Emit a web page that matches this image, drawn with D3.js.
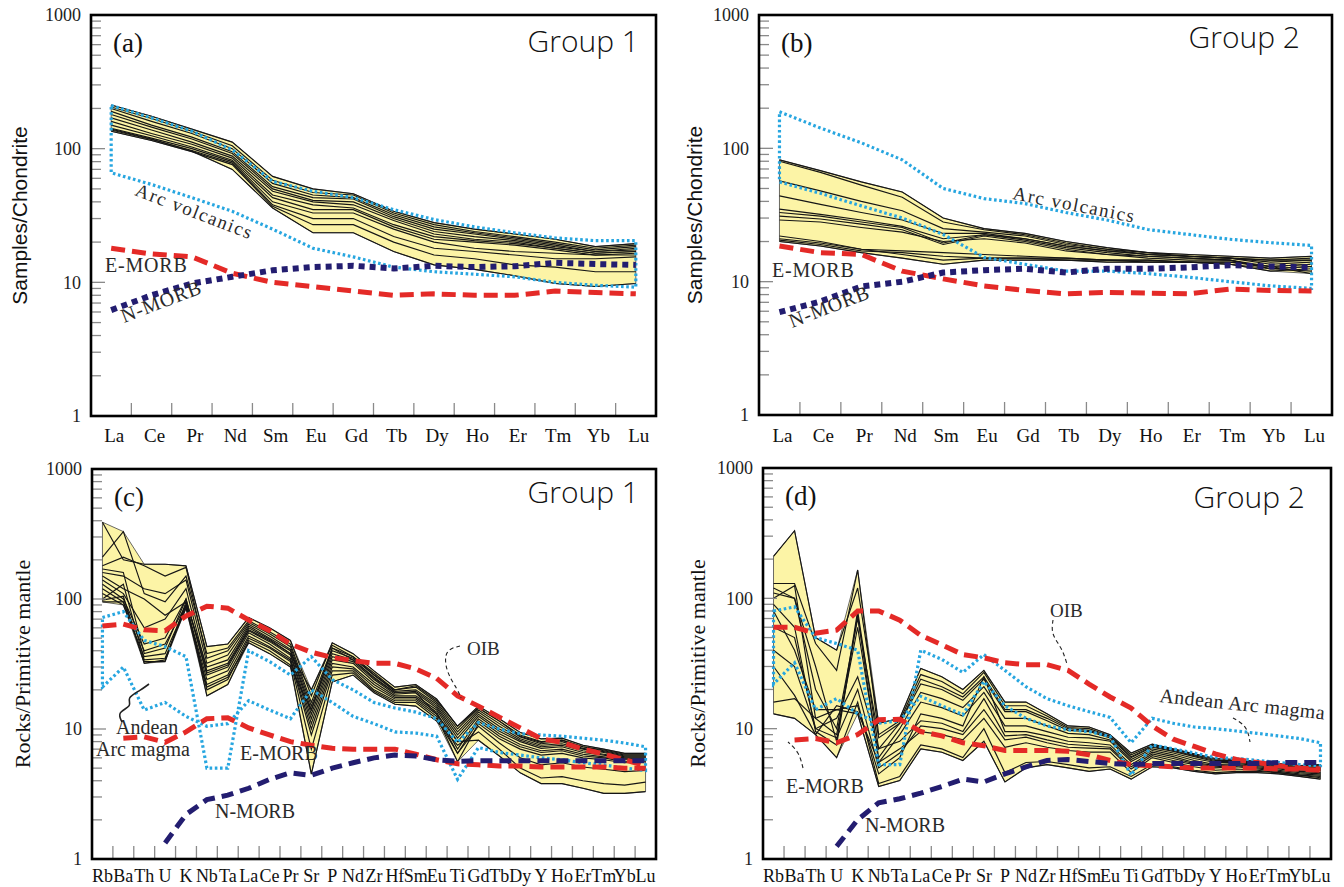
<!DOCTYPE html>
<html><head><meta charset="utf-8">
<script src="https://cdn.jsdelivr.net/npm/d3@7"></script>
<style>body{margin:0;background:#fff}svg{display:block}</style>
</head><body>
<svg id="chart" width="1344" height="887"></svg>
<script>
// ---------- categories & ticks ----------
const REE = ["La","Ce","Pr","Nd","Sm","Eu","Gd","Tb","Dy","Ho","Er","Tm","Yb","Lu"];
const SPIDER = ["Rb","Ba","Th","U","K","Nb","Ta","La","Ce","Pr","Sr","P","Nd","Zr","Hf","Sm","Eu","Ti","Gd","Tb","Dy","Y","Ho","Er","Tm","Yb","Lu"];
const yTickLabels = [1, 10, 100, 1000];

// ---------- panel (a) Group 1, chondrite ----------
const aSamples = [
  [212,175,140,112,62,50,46,34,28,25,23,21,18.5,19.5],
  [205,168,135,105,58,47,45,33,27,24,22,20,18,19],
  [200,160,130,100,55,45,43,32,26,23.5,21.5,19.5,17.5,18.5],
  [190,150,122,95,52,43,42,31,25,23,21,19,17,18],
  [180,145,118,92,50,41,40,30,24,22,20.5,18.5,17,17.5],
  [170,138,112,88,48,40,38,29,23,21,20,18,16.5,17],
  [160,130,108,85,45,38,36,27,22,20.5,19.5,18,16.5,17],
  [150,125,103,82,43,35,35,26,21,20,19,17.5,16,16.5],
  [142,120,100,80,40,33,33,25,20,18,17,16.5,16,16],
  [138,117,97,78,38,30,30,22,18,17,16,15,15,15.5],
  [135,115,95,76,37,27,27,20,16,15,13.5,13,12,12],
  [140,118,96,70,36,23.5,23.5,17,13.5,12.5,11.2,9.8,9.3,9.8]
];
const aArcUpper = [210,170,135,98,57,48,43,35,29.5,26,23.5,21.5,20.5,20.5];
const aArcLower = [66,54,43,34,25,18,15.5,13,12,11.5,11,10,9.5,9.2];
const aEMORB = [18,16.3,15.5,11.7,10,9.3,8.6,8,8.2,8,8,8.6,8.4,8.2];
const aNMORB = [6.2,8,9.8,11,12.3,13,13.3,12.7,13.3,13,13.2,14,13.7,13.5];

// ---------- panel (b) Group 2, chondrite ----------
const bSamples = [
  [82,68,56,47,30,25,23,20,18,16.5,16,15.5,15,15.5],
  [80,66,53,43,28,24.5,22.5,19.5,17.5,16.5,15.5,15,14.5,15],
  [57,48,40,34,25,23.5,22,19,17.5,16,15.5,15,14.5,14.5],
  [44,38,33,29,23,23,21,18.5,17,16,15.5,15,14,14.5],
  [35,32,29,26,21,22.5,21,18.5,17,16,15.5,15,13.5,14],
  [33,31,28,25.5,19.5,22.5,20.5,18,16.5,15.5,15,14.5,13,13.5],
  [31,29.5,27,24.5,19,22,20,17.5,16,15.5,15,14.5,12.5,13],
  [29,28,25.5,23.5,20,21,19.5,17,16,15,14.5,14.5,12.5,13],
  [21,19.5,17.5,17,16.5,16,15.5,15,14.5,14.5,14,14,13,13.5],
  [20.5,19,17,16.5,15.5,15,15,14.5,14.5,14,14,13.5,12,12.5],
  [20,18.5,16.5,15,13.5,14.5,14.5,14.5,14,14,14,13.5,12.5,12],
  [22,20,17.5,16,14.5,15,15,15,14.5,14.5,14,14,13,11.5]
];
const bArcUpper = [188,142,110,82,50,42,38.5,33,29,24.6,22.6,20.8,19.6,18.7];
const bArcLower = [56,46,37,30,22.6,15.2,13.5,12,12,11.5,10.8,10,9.3,8.9];
const bEMORB = [18.5,16.5,16,12,10.5,9.3,8.6,8.1,8.3,8.2,8.1,8.8,8.6,8.5];
const bNMORB = [5.9,7.1,9.2,10,11.7,12.2,12.5,11.7,12.5,12.5,12.8,13.3,13,12.8];

// ---------- panel (c) Group 1, primitive mantle ----------
const cSamples = [
  [390,200,185,185,180,43,45,72,60,48,18,46,38,28,21,22,17,10.5,15,12,9.4,8.4,8.5,7.5,7,6.5,6.5],
  [210,330,110,95,150,38,42,68,56,45,16,42,36,27,20,21,16,10,14.5,11.5,9,8,8.2,7.3,6.8,6.3,6.3],
  [180,210,180,150,175,35,40,66,54,43,15,40,35,26,19.5,20,15.5,9.5,14,11,8.7,7.7,8,7.1,6.7,6.2,6.2],
  [160,150,120,110,140,32,37,64,52,41,14,38,34,25,19,19.5,15,9,13.5,10.5,8.4,7.5,7.7,7,6.6,6.1,6.1],
  [150,120,100,75,95,30,34,62,50,40,13,36,33,24,18.5,19,14.5,8.5,13,10,8.2,7.3,7.5,6.8,6.4,6,6],
  [140,110,60,70,120,28,32,60,49,38,12,34,32,23,18,18,14,8,12.5,9.6,8,7.1,7.3,6.6,6.3,5.9,5.9],
  [130,100,45,50,100,26,30,57,47,37,11,32,30,22,17.5,17.5,13.5,7,12,9.2,7.6,6.8,7,6.4,6.1,5.8,5.8],
  [120,95,40,45,90,24,28,55,45,35,10,30,29,21,17,17,13,6.5,11.5,8.8,7.3,6.6,6.8,6.2,6,5.6,5.7],
  [110,90,36,38,88,22,26,52,43,34,9,28,28,20,16.5,16.5,12.5,5.6,11,8.4,7,6.3,6.5,6,5.8,5.5,5.6],
  [100,130,34,35,85,20,24,50,42,33,7,26,27,19.5,16,16,12,6.5,10.5,7.8,6,5.3,5.5,5.1,4.9,4.7,4.8],
  [95,95,33,33,95,18,22,48,40,31,4.5,23,26,19,15.5,15,11.5,7.5,9.5,7,5,4.2,4.3,4,3.8,3.7,3.9],
  [98,105,32,34,90,21,25,46,38,30,14,42,34,24.5,19,19,13,8,8.2,6.2,4.6,3.8,3.8,3.5,3.2,3.2,3.3],
  [170,160,38,42,100,27,31,58,48,38,20,44,36,26,20,21.5,16.5,10.5,14.5,11.5,8.8,7.9,8.2,7.3,6.9,6.4,6.4]
];
const cArcUpper = [72,80,48,43,36,5,5,40,33,26,36,24,20,16,14.5,13.5,12,7.9,11.2,10,9.2,9,8.8,8.5,8.2,7.8,7.3];
const cArcLower = [21,30,14,16,12.5,10.5,11,16.5,14,12,20,16,12.5,11,9.5,9.3,8.8,4.1,7.2,6.6,6.3,6,5.8,5.5,5.3,5,4.8];
const cOIB = [62,64,58,57,74,88,85,69,57,45,39,35.5,33.5,32,32,29,24.5,18,15,12.3,10.2,8.4,7.9,7,6.4,5.8,5.2];
const cEMORB = [null,8.5,8.7,7.9,9.5,12,12.2,10.2,9,8,7.5,7.1,7,7,7,6.4,5.8,5.4,5.3,5.2,5.2,5.1,5.1,5.1,5.1,5,5];
const cNMORB = [null,null,null,1.33,2.2,2.86,3.1,3.5,4.1,4.6,4.4,5,5.5,6,6.3,6.2,5.8,5.65,5.7,5.7,5.7,5.7,5.7,5.7,5.7,5.7,5.7];

// ---------- panel (d) Group 2, primitive mantle ----------
const dSamples = [
  [210,330,50,40,120,11,12,29,25,20,28,16,16,13,10.5,10.3,9,6.5,7.6,7,6.4,5.9,5.8,5.6,5.4,5.2,5.3],
  [130,130,45,28,165,9,11.5,26,23,18.5,27,15,15,12.5,10.2,10,8.8,6.3,7.4,6.9,6.3,5.8,5.7,5.5,5.3,5.1,5.2],
  [120,100,30,8,80,7,11,22,20,16.5,24,13.5,13.5,11.5,9.7,9.5,8.5,6,7.2,6.7,6.1,5.6,5.6,5.4,5.2,5,5],
  [100,125,12,9,60,6,10,19,17,14.5,21,12,12,10.5,9.2,9,8.2,5.8,7,6.5,5.9,5.5,5.5,5.3,5.1,4.9,4.9],
  [90,60,9.5,7.5,75,5.5,9,16,14.5,12.5,19,10.5,10.5,9.5,8.6,8.5,8,5.6,6.8,6.3,5.7,5.3,5.4,5.2,5,4.8,4.8],
  [80,40,14,14,15,4.5,6,13,12,10.5,25,9.5,9.5,8.8,8,7.8,7.5,5.3,6.6,6.1,5.5,5.2,5.3,5.1,4.9,4.7,4.6],
  [60,50,10,12,25,7,8,11.5,11,9.5,17,8.8,9,8.2,7.6,7.4,7.2,5.1,6.4,5.9,5.4,5.1,5.2,5,4.8,4.6,4.5],
  [40,30,10,8.5,20,5,6.5,10.5,10,9,14,8.2,8.6,7.8,7.2,7.1,7,4.9,6.2,5.7,5.3,5,5.1,4.9,4.7,4.5,4.4],
  [30,18,9,15,13.5,5.5,7,9.5,9,8.2,12,7.2,7.8,7.2,6.8,6.6,6.6,4.6,6,5.5,5.1,4.8,4.9,4.8,4.6,4.4,4.3],
  [16,17,12,14,13,3.6,4,7,6.6,5.7,8,3.9,5,5.3,5,4.7,4.9,4.1,5.1,5,4.7,4.5,4.6,4.6,4.5,4.3,4.1],
  [13,12,9,6,16,3.8,4.3,7.5,7,6,10,4.6,5.5,5.6,5.3,5,5.1,4.3,5.3,5.1,4.8,4.6,4.7,4.7,4.6,4.4,4.2],
  [110,100,20,10,70,8.5,11,24,21,17.5,25,14,14,12,10,9.7,8.7,6.1,7.3,6.8,6.2,5.7,5.7,5.5,5.3,5,5.1]
];
const dArcUpper = [80,86,50,45,40,5.3,5.3,40,34,27,37,28,21,17,15,13.5,12.2,7.8,12,11,10.3,10,9.6,9.2,8.8,8.4,7.8];
const dArcLower = [22,32,14,17,13,11,11.5,17.7,15,12.8,23,15,12,10.5,9.8,9.5,8.7,4.4,7.5,7,6.5,6,5.9,5.7,5.5,5.3,5.2];
const dOIB = [60,60,54,57,80,80,68,52,44,37,35,32,31,31,28,22,17.5,14.4,10.5,8.3,7.3,6.4,5.8,5.5,5.2,5,4.9];
const dEMORB = [null,8.2,8.4,7.8,9,11.7,11.8,9.5,8.8,7.8,7.4,6.8,6.8,6.8,6.7,6.3,5.7,5.3,5.2,5.1,5,5,5,5,4.9,4.9,4.8];
const dNMORB = [null,null,null,1.25,2,2.7,2.9,3.2,3.6,4.1,3.9,4.5,5.1,5.7,5.8,5.6,5.4,5.3,5.4,5.4,5.4,5.4,5.4,5.4,5.5,5.5,5.5];

// ---------- drawing ----------
const svg = d3.select("#chart");
const SERIF = "'Liberation Serif','Times New Roman',serif";
const SANS = "'Liberation Sans',Arial,sans-serif";
const BLUE = "#27a6e0", RED = "#e42a27", NAVY = "#231d70";

function drawPanel(p) {
  const g = svg.append("g");
  const x = d3.scalePoint().domain(p.cats).range([p.x0, p.x1]).padding(0.5);
  const y = d3.scaleLog().domain([1, 1000]).range([p.y1, p.y0]);
  const step = x.step();
  const pts = arr => p.cats.map((c, i) => [c, arr[i]]);
  const lineGen = d3.line().defined(d => d[1] != null).x(d => x(d[0])).y(d => y(d[1]));

  // envelope
  const env = p.cats.map((c, i) => ({c, lo: d3.min(p.samples, s => s[i]), hi: d3.max(p.samples, s => s[i])}));
  g.append("path").datum(env)
    .attr("d", d3.area().x(d => x(d.c)).y0(d => y(d.lo)).y1(d => y(d.hi)))
    .attr("fill", "#fcf4a6").attr("stroke", "#444").attr("stroke-width", 0.8);

  // sample lines
  p.samples.forEach(s => g.append("path").attr("d", lineGen(pts(s)))
    .attr("fill", "none").attr("stroke", "#151515").attr("stroke-width", 1.15));

  // arc field polygon (blue dotted)
  const poly = pts(p.arcU).concat(pts(p.arcL).reverse());
  g.append("path").attr("d", lineGen(poly) + "Z")
    .attr("fill", "none").attr("stroke", BLUE).attr("stroke-width", 3.2)
    .attr("stroke-dasharray", "2.6,2.6");

  // OIB
  if (p.oib) g.append("path").attr("d", lineGen(pts(p.oib)))
    .attr("fill", "none").attr("stroke", RED).attr("stroke-width", 5).attr("stroke-dasharray", "14,7");
  // E-MORB
  g.append("path").attr("d", lineGen(pts(p.emorb)))
    .attr("fill", "none").attr("stroke", RED).attr("stroke-width", 5).attr("stroke-dasharray", "14,7");
  // N-MORB
  g.append("path").attr("d", lineGen(pts(p.nmorb)))
    .attr("fill", "none").attr("stroke", NAVY)
    .attr("stroke-width", p.nDotted ? 6 : 5)
    .attr("stroke-dasharray", p.nDotted ? "6,5" : "12,7");

  // y ticks (inside, gray)
  const minor = [];
  for (let k = 0; k < 3; k++) for (let m = 2; m <= 9; m++) minor.push(m * Math.pow(10, k));
  g.selectAll(null).data(minor).enter().append("line")
    .attr("x1", p.x0).attr("x2", p.x0 + 10)
    .attr("y1", d => y(d)).attr("y2", d => y(d))
    .attr("stroke", "#8a8a8a").attr("stroke-width", 1.3);
  g.selectAll(null).data([10, 100]).enter().append("line")
    .attr("x1", p.x0).attr("x2", p.x0 + 14)
    .attr("y1", d => y(d)).attr("y2", d => y(d))
    .attr("stroke", "#8a8a8a").attr("stroke-width", 1.3);
  // x ticks at band boundaries
  g.selectAll(null).data(p.cats.slice(1)).enter().append("line")
    .attr("x1", d => x(d) - step / 2).attr("x2", d => x(d) - step / 2)
    .attr("y1", p.y1).attr("y2", p.y1 - 13)
    .attr("stroke", "#8a8a8a").attr("stroke-width", 1.3);

  // frame
  g.append("rect").attr("x", p.x0).attr("y", p.y0)
    .attr("width", p.x1 - p.x0).attr("height", p.y1 - p.y0)
    .attr("fill", "none").attr("stroke", "#000").attr("stroke-width", 2.6);

  // y tick labels
  g.selectAll(null).data(yTickLabels).enter().append("text")
    .attr("x", p.x0 - 10).attr("y", d => y(d)).attr("dy", "0.35em")
    .attr("text-anchor", "end").attr("font-family", SERIF).attr("font-size", 18)
    .attr("fill", "#222").text(d => d);
  // x labels
  g.selectAll(null).data(p.cats).enter().append("text")
    .attr("x", d => x(d) + (p.labelShift || 0)).attr("y", p.y1 + p.xLabOff)
    .attr("text-anchor", "middle").attr("font-family", SERIF)
    .attr("font-size", p.xLabSize).attr("fill", "#111").text(d => d);

  // axis title
  g.append("text").attr("transform", `translate(${p.titleX},${(p.y0 + p.y1) / 2}) rotate(-90)`)
    .attr("text-anchor", "middle").attr("dy", "0.35em")
    .attr("font-family", p.titleFont).attr("font-size", p.titleSize).attr("fill", "#111")
    .text(p.title);

  // panel letter and group
  g.append("text").attr("x", p.x0 + 22).attr("y", p.y0 + 37)
    .attr("font-family", SERIF).attr("font-size", 27).attr("fill", "#111").text(p.letter);
  g.append("text").attr("x", p.groupX).attr("y", p.groupY).attr("text-anchor", "end")
    .attr("font-family", "'Open Sans','Noto Sans',sans-serif").attr("font-weight", 300)
    .attr("font-size", 30).attr("fill", "#111").text(p.group);

  // annotations
  (p.notes || []).forEach(n => {
    g.append("text").attr("transform", `translate(${n.x},${n.y}) rotate(${n.rot || 0})`)
      .attr("font-family", SERIF).attr("font-size", n.size || 20)
      .attr("letter-spacing", n.ls || 0).attr("fill", "#2a2a2a").text(n.t);
  });
  (p.leaders || []).forEach(L => {
    g.append("path").attr("d", d3.line().curve(d3.curveBasis)(L.pts))
      .attr("fill", "none").attr("stroke", "#222").attr("stroke-width", L.w || 1.1)
      .attr("stroke-dasharray", L.dash || "4,3");
  });
  return {x, y};
}

drawPanel({cats: REE, x0: 91, x1: 656, y0: 15, y1: 416,
  samples: aSamples, arcU: aArcUpper, arcL: aArcLower, emorb: aEMORB, nmorb: aNMORB, nDotted: true,
  xLabOff: 26, xLabSize: 19, labelShift: 3, title: "Samples/Chondrite", titleX: 20, titleFont: SANS, titleSize: 21,
  letter: "(a)", group: "Group 1", groupX: 639, groupY: 52,
  notes: [
    {t: "Arc volcanics", x: 134, y: 195, rot: 21, size: 19, ls: 1.5},
    {t: "E-MORB", x: 105, y: 272, size: 20, ls: 0.8},
    {t: "N-MORB", x: 124, y: 323, rot: -21, size: 20, ls: 0.8}
  ]});

drawPanel({cats: REE, x0: 759, x1: 1332, y0: 15, y1: 415,
  samples: bSamples, arcU: bArcUpper, arcL: bArcLower, emorb: bEMORB, nmorb: bNMORB, nDotted: true,
  xLabOff: 27, xLabSize: 19, labelShift: 3, title: "Samples/Chondrite", titleX: 695, titleFont: SANS, titleSize: 21,
  letter: "(b)", group: "Group 2", groupX: 1300, groupY: 48,
  notes: [
    {t: "Arc volcanics", x: 1012, y: 199, rot: 11, size: 19, ls: 1.5},
    {t: "E-MORB", x: 772, y: 277, size: 20, ls: 0.8},
    {t: "N-MORB", x: 792, y: 328, rot: -21, size: 20, ls: 0.8}
  ]});

drawPanel({cats: SPIDER, x0: 92, x1: 656, y0: 469, y1: 859,
  samples: cSamples, arcU: cArcUpper, arcL: cArcLower, oib: cOIB, emorb: cEMORB, nmorb: cNMORB, nDotted: false,
  xLabOff: 23, xLabSize: 18, title: "Rocks/Primitive mantle", titleX: 22, titleFont: SERIF, titleSize: 22,
  letter: "(c)", group: "Group 1", groupX: 639, groupY: 503,
  notes: [
    {t: "OIB", x: 467, y: 655, size: 19},
    {t: "Andean", x: 116, y: 734, size: 20},
    {t: "Arc magma", x: 96, y: 756, size: 20},
    {t: "E-MORB", x: 240, y: 760, size: 20},
    {t: "N-MORB", x: 215, y: 818, size: 20}
  ],
  leaders: [
    {pts: [[460, 646], [444, 650], [446, 672], [458, 690], [461, 698]]},
    {pts: [[122, 722], [117, 712], [133, 706], [126, 698], [141, 690], [149, 684]], dash: "none", w: 1.6}
  ]});

drawPanel({cats: SPIDER, x0: 763, x1: 1331, y0: 468, y1: 859,
  samples: dSamples, arcU: dArcUpper, arcL: dArcLower, oib: dOIB, emorb: dEMORB, nmorb: dNMORB, nDotted: false,
  xLabOff: 23, xLabSize: 18, title: "Rocks/Primitive mantle", titleX: 697, titleFont: SERIF, titleSize: 22,
  letter: "(d)", group: "Group 2", groupX: 1305, groupY: 508,
  notes: [
    {t: "OIB", x: 1050, y: 617, size: 19},
    {t: "Andean Arc magma", x: 1159, y: 702, rot: 6, size: 20, ls: 0.4},
    {t: "E-MORB", x: 786, y: 793, size: 20},
    {t: "N-MORB", x: 865, y: 832, size: 20}
  ],
  leaders: [
    {pts: [[1053, 620], [1051, 634], [1062, 648], [1067, 664]]},
    {pts: [[1233, 718], [1247, 726], [1250, 742]]},
    {pts: [[803, 768], [799, 752], [788, 742]]}
  ]});
</script>
</body></html>
